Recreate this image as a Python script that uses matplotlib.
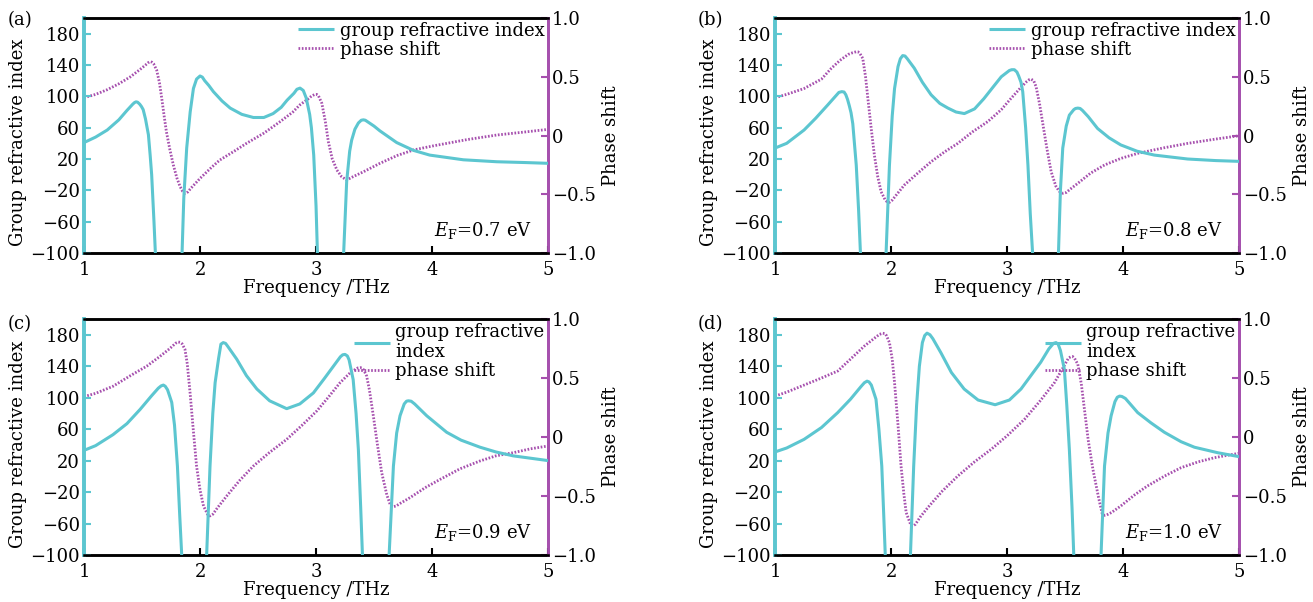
import numpy as np
import matplotlib
matplotlib.use('Agg')
import matplotlib.pyplot as plt

plt.rcParams['font.family'] = ['DejaVu Serif']
plt.rcParams['mathtext.fontset'] = 'dejavuserif'

CYAN = '#5cc6d0'
PURPLE = '#a650ae'

# ---------------- (a) E_F = 0.7 eV ----------------
f_a_n = [1.0, 1.1, 1.2, 1.3, 1.37, 1.42, 1.435, 1.448, 1.462, 1.48, 1.495, 1.51, 1.53, 1.555, 1.57,
         1.583, 1.603, 1.615, 1.625,
         1.835, 1.845, 1.86, 1.885, 1.915, 1.943, 1.97, 2.0, 2.02, 2.04, 2.075, 2.115, 2.19, 2.26,
         2.36, 2.46, 2.55, 2.63, 2.7, 2.75, 2.81, 2.835, 2.862, 2.89, 2.915, 2.945, 2.96, 2.98,
         3.0, 3.012, 3.025,
         3.225, 3.238, 3.264, 3.29, 3.307, 3.335, 3.365, 3.39, 3.408, 3.425, 3.45, 3.5, 3.55,
         3.695, 3.84, 3.98, 4.27, 4.56, 4.8, 5.0]
n_a = [41, 48, 57, 70, 82, 90, 92, 93, 92.5, 90, 87, 83, 71, 51, 25,
       0, -60, -100, -400,
       -400, -100, -30, 34, 80, 110, 122, 126, 124.5, 120, 114, 106, 94, 85,
       77, 73, 73, 78, 86, 95, 104, 109, 110.5, 107.5, 98, 77, 60, 25,
       -40, -100, -400,
       -400, -100, -9, 30, 44, 58, 66, 69.5, 70, 69.5, 67, 62, 56,
       41, 31, 25, 19, 16.5, 15.5, 14.5]
f_a_p = [1.0, 1.1, 1.2, 1.3, 1.4, 1.48, 1.53, 1.55, 1.569, 1.585, 1.6, 1.626, 1.65, 1.67, 1.69,
         1.71, 1.74, 1.77, 1.8, 1.828, 1.85, 1.87, 1.895, 1.92, 2.0, 2.1, 2.17, 2.3, 2.4, 2.55,
         2.69, 2.8, 2.86, 2.93, 2.96, 2.99, 3.005, 3.02, 3.05, 3.08, 3.106, 3.14, 3.18, 3.22,
         3.264, 3.32, 3.41, 3.55, 3.7, 3.84, 4.0, 4.126, 4.3, 4.557, 4.8, 5.0]
p_a = [0.322, 0.35, 0.39, 0.44, 0.50, 0.56, 0.60, 0.618, 0.628, 0.624, 0.61, 0.557, 0.45, 0.316, 0.17,
       0.033, -0.12, -0.251, -0.36, -0.435, -0.475, -0.492, -0.48, -0.45, -0.365, -0.27, -0.209, -0.13, -0.067, 0.02,
       0.118, 0.2, 0.26, 0.31, 0.335, 0.35, 0.35, 0.34, 0.274, 0.12, -0.052, -0.2, -0.294, -0.35,
       -0.379, -0.35, -0.308, -0.237, -0.17, -0.123, -0.09, -0.067, -0.035, 0.004, 0.03, 0.052]

# ---------------- (b) E_F = 0.8 eV ----------------
f_b_n = [1.0, 1.1, 1.25, 1.35, 1.454, 1.52, 1.55, 1.575, 1.595, 1.61, 1.625, 1.64, 1.655, 1.67, 1.7,
         1.72, 1.736, 1.75,
         1.945, 1.957, 1.986, 2.01, 2.03, 2.06, 2.08, 2.1, 2.12, 2.14, 2.2, 2.27, 2.345, 2.42, 2.49,
         2.56, 2.632, 2.72, 2.8, 2.88, 2.95, 3.02, 3.04, 3.063, 3.085, 3.1, 3.12, 3.135, 3.16,
         3.18, 3.2, 3.22, 3.235,
         3.43, 3.443, 3.46, 3.48, 3.51, 3.537, 3.575, 3.59, 3.61, 3.63, 3.65, 3.7, 3.78, 3.88,
         3.98, 4.12, 4.27, 4.557, 4.8, 5.0]
n_b = [34, 40, 57, 72, 89, 100, 105, 106, 105.5, 102, 96, 88, 79, 65, 12,
       -45, -100, -400,
       -400, -100, 12, 75, 110, 138, 148, 152, 151.5, 148, 136, 118, 102, 91, 85,
       80, 78, 84, 97, 112, 125, 133, 134, 134, 131, 126, 118, 106, 60,
       12, -50, -100, -400,
       -400, -100, -20, 34, 62, 76, 83, 84.5, 85, 84.5, 82, 74, 59, 47,
       38, 30, 25, 20, 18, 17]
f_b_p = [1.0, 1.1, 1.25, 1.4, 1.483, 1.56, 1.63, 1.67, 1.7, 1.715, 1.73, 1.756, 1.78, 1.8, 1.83,
         1.856, 1.885, 1.914, 1.95, 1.965, 1.986, 2.01, 2.05, 2.115, 2.23, 2.345, 2.46, 2.575, 2.7,
         2.833, 2.95, 3.034, 3.12, 3.17, 3.19, 3.207, 3.23, 3.25, 3.28, 3.31, 3.345, 3.38, 3.42,
         3.45, 3.48, 3.51, 3.54, 3.61, 3.72, 3.84, 3.98, 4.126, 4.35, 4.557, 4.8, 5.0]
p_b = [0.322, 0.35, 0.40, 0.48, 0.57, 0.64, 0.69, 0.705, 0.713, 0.712, 0.70, 0.657, 0.5, 0.316, 0.05,
       -0.166, -0.35, -0.478, -0.55, -0.563, -0.569, -0.55, -0.5, -0.421, -0.32, -0.223, -0.14, -0.067, 0.03,
       0.118, 0.22, 0.316, 0.41, 0.46, 0.475, 0.48, 0.465, 0.416, 0.27, 0.089, -0.12, -0.308, -0.43,
       -0.475, -0.492, -0.485, -0.46, -0.407, -0.32, -0.251, -0.195, -0.152, -0.105, -0.067, -0.03, -0.002]

# ---------------- (c) E_F = 0.9 eV ----------------
f_c_n = [1.0, 1.1, 1.25, 1.37, 1.483, 1.58, 1.64, 1.665, 1.684, 1.70, 1.72, 1.756, 1.78, 1.805, 1.825,
         1.842, 1.855,
         2.045, 2.057, 2.086, 2.11, 2.13, 2.16, 2.18, 2.2, 2.22, 2.24, 2.316, 2.4, 2.49, 2.6,
         2.747, 2.86, 2.977, 3.07, 3.15, 3.21, 3.23, 3.25, 3.27, 3.285, 3.32, 3.345, 3.365,
         3.385, 3.4, 3.415,
         3.615, 3.63, 3.667, 3.695, 3.724, 3.76, 3.78, 3.796, 3.82, 3.85, 3.954, 4.126, 4.25,
         4.414, 4.55, 4.7, 4.85, 5.0]
n_c = [33, 39, 53, 67, 85, 102, 112, 115, 116, 114.5, 110, 94, 65, 13, -50,
       -100, -400,
       -400, -100, 13, 80, 119, 150, 168, 170, 169, 165, 149, 128, 111, 96,
       86, 92, 106, 124, 140, 152, 154.5, 155, 153, 148, 123, 80, 34,
       -40, -100, -400,
       -400, -100, 13, 55, 77, 92, 95.5, 96, 95.5, 92, 77, 56, 46,
       37, 31, 26, 23, 20]
f_c_p = [1.0, 1.1, 1.25, 1.4, 1.54, 1.65, 1.74, 1.79, 1.813, 1.83, 1.845, 1.87, 1.89, 1.914, 1.94,
         1.97, 2.0, 2.03, 2.06, 2.07, 2.086, 2.11, 2.15, 2.23, 2.34, 2.46, 2.6, 2.747, 2.88,
         3.006, 3.1, 3.207, 3.3, 3.36, 3.38, 3.395, 3.41, 3.436, 3.46, 3.494, 3.53, 3.566, 3.61,
         3.64, 3.667, 3.69, 3.73, 3.81, 3.94, 4.07, 4.24, 4.414, 4.55, 4.7, 4.85, 5.0]
p_c = [0.342, 0.37, 0.43, 0.52, 0.60, 0.68, 0.75, 0.795, 0.805, 0.802, 0.79, 0.743, 0.62, 0.376, 0.08,
       -0.246, -0.45, -0.585, -0.645, -0.665, -0.669, -0.655, -0.6, -0.5, -0.37, -0.246, -0.13, -0.02, 0.1,
       0.22, 0.33, 0.46, 0.55, 0.585, 0.588, 0.585, 0.57, 0.517, 0.4, 0.178, -0.07, -0.302, -0.49,
       -0.575, -0.59, -0.585, -0.56, -0.514, -0.43, -0.359, -0.27, -0.203, -0.16, -0.133, -0.1, -0.076]

# ---------------- (d) E_F = 1.0 eV ----------------
f_d_n = [1.0, 1.1, 1.25, 1.4, 1.54, 1.65, 1.74, 1.77, 1.793, 1.81, 1.83, 1.87, 1.895, 1.92, 1.937,
         1.95, 1.963,
         2.155, 2.167, 2.195, 2.22, 2.244, 2.27, 2.29, 2.31, 2.335, 2.36, 2.43, 2.52, 2.63, 2.75,
         2.897, 3.02, 3.12, 3.22, 3.29, 3.36, 3.40, 3.422, 3.44, 3.46, 3.494, 3.515, 3.537, 3.56,
         3.575, 3.588,
         3.797, 3.81, 3.84, 3.87, 3.897, 3.93, 3.95, 3.97, 3.99, 4.02, 4.126, 4.24, 4.356, 4.5,
         4.615, 4.816, 5.0]
n_d = [31, 36, 47, 62, 81, 98, 114, 119, 121, 120, 116, 98, 60, 13, -50,
       -100, -400,
       -400, -100, 13, 90, 140, 170, 179, 182, 180, 175, 157, 132, 111, 97,
       91, 97, 111, 131, 145, 162, 169, 170, 168, 160, 136, 90, 34, -40,
       -100, -400,
       -400, -100, 13, 55, 77, 95, 100.5, 102, 101.5, 99, 81, 68, 56, 44,
       37, 30, 25]
f_d_p = [1.0, 1.1, 1.25, 1.4, 1.54, 1.65, 1.77, 1.86, 1.9, 1.928, 1.945, 1.96, 1.986, 2.01, 2.03,
         2.06, 2.086, 2.11, 2.13, 2.16, 2.17, 2.187, 2.21, 2.25, 2.316, 2.44, 2.575, 2.72, 2.862,
         3.0, 3.15, 3.28, 3.408, 3.49, 3.53, 3.55, 3.565, 3.58, 3.61, 3.64, 3.667, 3.7, 3.74,
         3.79, 3.82, 3.84, 3.86, 3.9, 3.98, 4.1, 4.21, 4.36, 4.5, 4.65, 4.79, 4.9, 5.0]
p_d = [0.347, 0.38, 0.44, 0.50, 0.559, 0.66, 0.771, 0.84, 0.87, 0.879, 0.877, 0.86, 0.80, 0.66, 0.46,
       0.1, -0.246, -0.48, -0.64, -0.72, -0.745, -0.754, -0.74, -0.68, -0.599, -0.46, -0.331, -0.21, -0.105,
       0.01, 0.15, 0.3, 0.46, 0.6, 0.67, 0.68, 0.682, 0.67, 0.616, 0.45, 0.234, -0.03, -0.274,
       -0.52, -0.65, -0.664, -0.66, -0.64, -0.585, -0.49, -0.415, -0.33, -0.26, -0.21, -0.175, -0.155, -0.138]

panel_tags = ['(a)', '(b)', '(c)', '(d)']
fermi_labels = ['0.7', '0.8', '0.9', '1.0']
legend_labels = ['group refractive index', 'group refractive index',
                 'group refractive\nindex', 'group refractive\nindex']

left_ticks = [-100, -60, -20, 20, 60, 100, 140, 180]
right_ticks = [-1.0, -0.5, 0, 0.5, 1.0]
right_ticklabels = ['\u22121.0', '\u22120.5', '0', '0.5', '1.0']


def draw_panel(fig, rect, fn, n, fp, p, tag, ef, glabel, tagpos):
    ax = fig.add_axes(rect)
    ax2 = ax.twinx()
    l1, = ax.plot(fn, n, color=CYAN, lw=2.2, solid_capstyle='butt', solid_joinstyle='round', zorder=3)
    l2, = ax2.plot(fp, p, color=PURPLE, lw=2.0, ls=(0, (0.6, 0.6)), zorder=2)
    ax.set_zorder(ax2.get_zorder() + 1)
    ax.patch.set_visible(False)

    ax.set_xlim(1, 5)
    ax.set_ylim(-100, 200)
    ax2.set_ylim(-1, 1)
    ax.set_xticks([1, 2, 3, 4, 5])
    ax.set_yticks(left_ticks)
    ax2.set_yticks(right_ticks)
    ax2.set_yticklabels(right_ticklabels)

    ax.tick_params(axis='x', direction='in', length=5, width=1.5, labelsize=13, pad=6, top=False)
    ax.tick_params(axis='y', direction='in', length=5, width=1.5, color=CYAN, labelsize=13, pad=3)
    ax2.tick_params(axis='y', direction='in', length=5, width=1.5, color=PURPLE, labelsize=13, pad=3)

    for a in (ax, ax2):
        a.spines['top'].set_color('black')
        a.spines['top'].set_linewidth(1.8)
        a.spines['bottom'].set_color('black')
        a.spines['bottom'].set_linewidth(1.8)
        a.spines['left'].set_color(CYAN)
        a.spines['left'].set_linewidth(2.6)
        a.spines['right'].set_color(PURPLE)
        a.spines['right'].set_linewidth(2.0)

    ax.set_xlabel('Frequency /THz', fontsize=13, labelpad=0)
    ax.set_ylabel('Group refractive index', fontsize=13, labelpad=2)
    ax.yaxis.label.set_y(0.47)
    ax2.set_ylabel('Phase shift', fontsize=13, labelpad=4)

    ax.legend([l1, l2], [glabel, 'phase shift'], loc='upper right', frameon=False,
              fontsize=13, handlelength=2.0, handletextpad=0.3, borderaxespad=0.1,
              borderpad=0.1, labelspacing=0.05)
    ax.text(0.965, 0.05, r'$E_{\mathrm{F}}$=' + ef + ' eV', transform=ax.transAxes,
            ha='right', va='bottom', fontsize=13)
    fig.text(tagpos[0], tagpos[1], tag, fontsize=13, va='center', ha='left')


def main():
    fig = plt.figure(figsize=(13.13, 6.02), dpi=100)
    w = 0.3534
    rects = [[0.064, 0.5797, w, 0.3904], [0.5903, 0.5797, w, 0.3904],
             [0.064, 0.0781, w, 0.392], [0.5903, 0.0781, w, 0.392]]
    tagpos = [(0.006, 0.967), (0.531, 0.967), (0.006, 0.462), (0.531, 0.462)]
    data = [(f_a_n, n_a, f_a_p, p_a), (f_b_n, n_b, f_b_p, p_b),
            (f_c_n, n_c, f_c_p, p_c), (f_d_n, n_d, f_d_p, p_d)]
    for i in range(4):
        fn, n, fp, p = data[i]
        draw_panel(fig, rects[i], np.asarray(fn), np.asarray(n), np.asarray(fp), np.asarray(p),
                   panel_tags[i], fermi_labels[i], legend_labels[i], tagpos[i])
    fig.savefig('out.png', dpi=100)


if __name__ == '__main__':
    main()
